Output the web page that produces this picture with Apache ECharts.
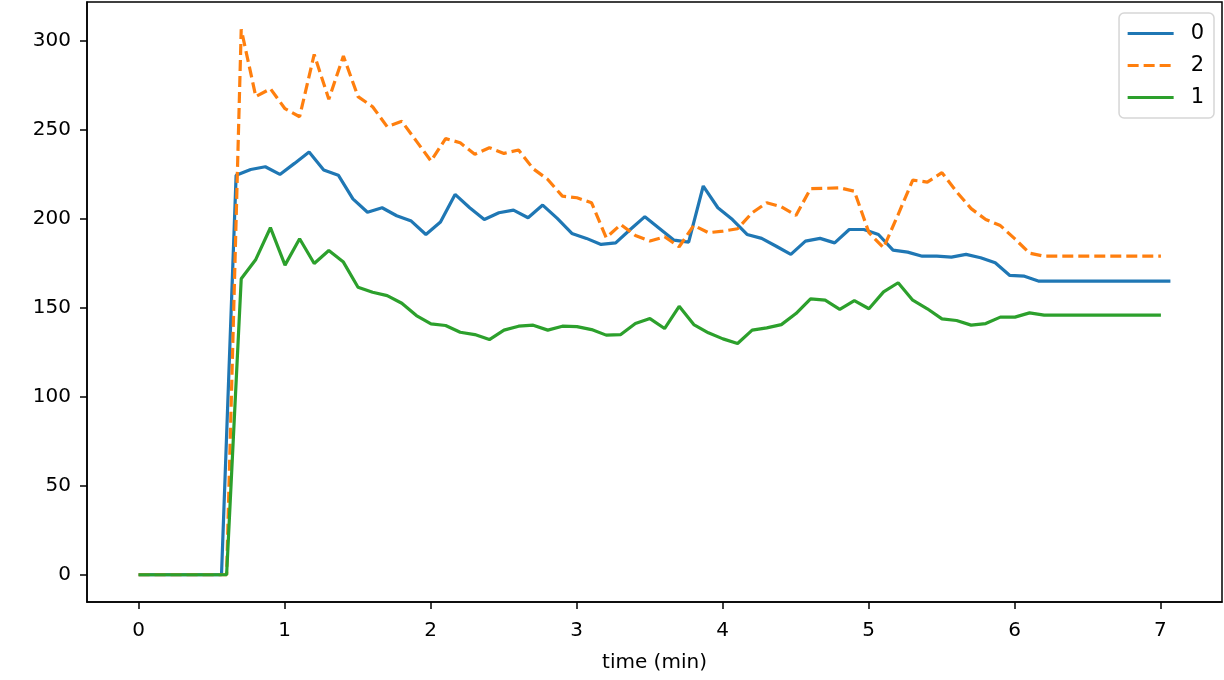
<!DOCTYPE html>
<html>
<head>
<meta charset="utf-8">
<script src="https://cdn.jsdelivr.net/npm/echarts@6/dist/echarts.min.js"></script>
<style>html,body{margin:0;padding:0;background:#fff}#c{width:1224px;height:680px}</style>
</head>
<body>
<div id="c"></div>
<script>
// sample times (min)
const time0 = [0, 0.568, 0.668, 0.768, 0.868, 0.968, 1.068, 1.168, 1.268, 1.368, 1.468, 1.568, 1.668, 1.768, 1.868, 1.968, 2.068, 2.168, 2.268, 2.368, 2.468, 2.568, 2.668, 2.768, 2.868, 2.968, 3.068, 3.168, 3.268, 3.368, 3.468, 3.568, 3.668, 3.768, 3.868, 3.968, 4.068, 4.168, 4.268, 4.368, 4.468, 4.568, 4.668, 4.768, 4.868, 4.968, 5.068, 5.168, 5.268, 5.368, 5.468, 5.568, 5.668, 5.768, 5.868, 5.968, 6.068, 6.168, 6.268, 6.368, 6.468, 6.568, 6.668, 6.768, 6.868, 6.968, 7.068];
const time12 = [0, 0.603, 0.703, 0.803, 0.903, 1.003, 1.103, 1.203, 1.303, 1.403, 1.503, 1.603, 1.703, 1.803, 1.903, 2.003, 2.103, 2.203, 2.303, 2.403, 2.503, 2.603, 2.703, 2.803, 2.903, 3.003, 3.103, 3.203, 3.303, 3.403, 3.503, 3.603, 3.703, 3.803, 3.903, 4.003, 4.103, 4.203, 4.303, 4.403, 4.503, 4.603, 4.703, 4.803, 4.903, 5.003, 5.103, 5.203, 5.303, 5.403, 5.503, 5.603, 5.703, 5.803, 5.903, 6.003, 6.103, 6.203, 6.303, 6.403, 6.503, 6.603, 6.703, 6.803, 6.903, 7.003];

const series0 = [0, 0, 224.2, 227.5, 229, 224.7, 230.9, 237.3, 227.2, 224.3, 211, 203.5, 206, 201.5, 198.5, 191, 198, 213.5, 206, 199.4, 203.2, 204.7, 200.4, 207.5, 200, 191.6, 188.8, 185.4, 186.3, 193.8, 201, 194.4, 187.8, 186.7, 218.2, 206, 199.4, 191, 188.8, 184.4, 179.8, 187.3, 188.8, 186.3, 193.8, 193.8, 191, 182.2, 181.1, 178.8, 178.8, 178.3, 179.8, 177.9, 175.1, 168, 167.6, 164.8, 164.8, 164.8, 164.8, 164.8, 164.8, 164.8, 164.8, 164.8, 164.8];
const series2 = [0, 0, 306.2, 268.4, 272.8, 261.6, 257.1, 292.1, 266.9, 291.2, 268.4, 262.7, 251.5, 254.5, 243.4, 232.2, 244.8, 242.5, 236, 239.7, 236.5, 238.4, 227.9, 221.9, 212.5, 211.6, 208.8, 189.2, 196.6, 190.4, 187.3, 189.7, 184.1, 196.1, 192, 192.9, 194.2, 203.2, 208.8, 206.6, 201.7, 216.7, 216.9, 217.2, 215.3, 192, 183.5, 202.2, 221.5, 220.4, 225.7, 215, 205.5, 199.4, 196, 188.5, 180.5, 178.8, 178.8, 178.8, 178.8, 178.8, 178.8, 178.8, 178.8, 178.8];
const series1 = [0, 0, 166.1, 177, 194.8, 173.8, 188.6, 174.7, 182, 175.5, 161.4, 158.6, 156.7, 152.4, 145.5, 140.8, 139.9, 136.1, 134.8, 132, 137.3, 139.5, 140.1, 137.3, 139.5, 139.3, 137.6, 134.5, 134.8, 141, 143.8, 138.2, 150.7, 140.4, 135.8, 132.4, 129.8, 137.3, 138.6, 140.4, 146.6, 154.9, 154.1, 148.9, 153.9, 149.3, 158.8, 163.9, 154.1, 149.3, 143.6, 142.7, 140.1, 141, 144.6, 144.6, 147, 145.7, 145.7, 145.7, 145.7, 145.7, 145.7, 145.7, 145.7, 145.7];

const xTicks = [0, 1, 2, 3, 4, 5, 6, 7];
const yTicks = [0, 50, 100, 150, 200, 250, 300];
const seriesNames = ['0', '2', '1'];
const xLabel = 'time (min)';

function pairs(t, v) { return t.map((x, i) => [x, v[i]]); }

const FONT = 'DejaVu Sans';
const LW = 3.2;
const chart = echarts.init(document.getElementById('c'), null, {renderer: 'canvas'});
const axisLine = {show: true, onZero: false, lineStyle: {color: '#000', width: 1.5}};
function tick(vals) { return {show: true, customValues: vals, length: 7, lineStyle: {color: '#000', width: 1.5}}; }
chart.setOption({
  animation: false,
  backgroundColor: '#fff',
  grid: {left: 87, right: 2, top: 2, bottom: 78, show: true, borderColor: '#000', borderWidth: 1.5, backgroundColor: 'transparent'},
  xAxis: {
    type: 'value', min: -0.3534, max: 7.4214,
    name: xLabel, nameLocation: 'middle', nameGap: 51,
    nameTextStyle: {fontFamily: FONT, fontSize: 20, color: '#000'},
    axisLine: axisLine, axisTick: tick(xTicks), splitLine: {show: false},
    axisLabel: {customValues: xTicks, fontFamily: FONT, fontSize: 20, color: '#000', margin: 19},
  },
  yAxis: {
    type: 'value', min: -15.31, max: 321.5,
    axisLine: axisLine, axisTick: tick(yTicks), splitLine: {show: false},
    axisLabel: {customValues: yTicks, fontFamily: FONT, fontSize: 20, color: '#000', margin: 16},
  },
  legend: {
    data: seriesNames, orient: 'vertical', right: 10, top: 13,
    padding: [10, 10, 10, 7], itemGap: 11, itemWidth: 46, itemHeight: 12,
    itemStyle: {opacity: 0},
    lineStyle: {width: LW},
    backgroundColor: '#fff', borderColor: '#d6d6d6', borderWidth: 1.5, borderRadius: 5,
    textStyle: {fontFamily: FONT, fontSize: 21, color: '#000', lineHeight: 20, padding: [0, 0, 0, 12]},
  },
  series: [
    {name: seriesNames[0], type: 'line', data: pairs(time0, series0), showSymbol: false, symbol: 'none',
     lineStyle: {color: '#1f77b4', width: LW}, itemStyle: {color: '#1f77b4'}},
    {name: seriesNames[1], type: 'line', data: pairs(time12, series2), showSymbol: false, symbol: 'none',
     lineStyle: {color: '#ff7f0e', width: LW, type: [11, 5]}, itemStyle: {color: '#ff7f0e'}},
    {name: seriesNames[2], type: 'line', data: pairs(time12, series1), showSymbol: false, symbol: 'none',
     lineStyle: {color: '#2ca02c', width: LW}, itemStyle: {color: '#2ca02c'}},
  ],
});
</script>
</body>
</html>
